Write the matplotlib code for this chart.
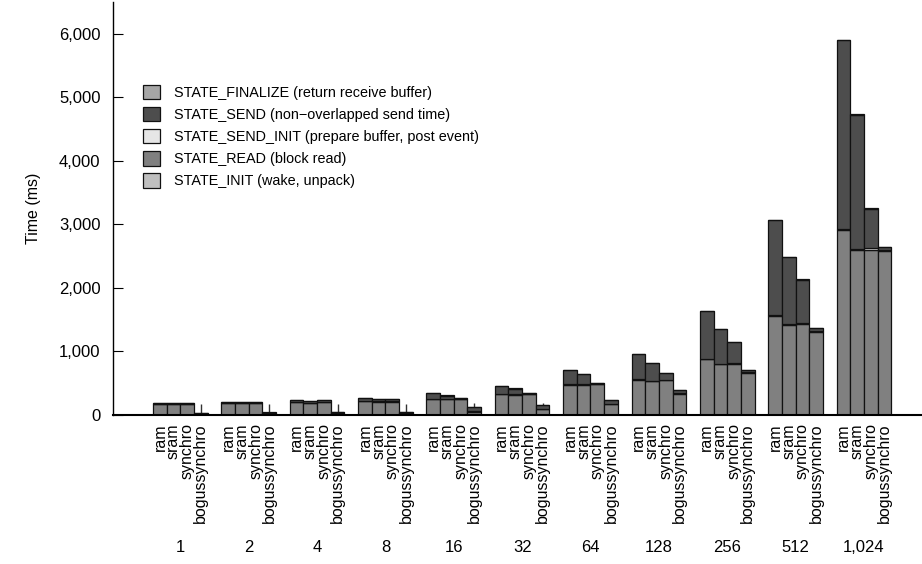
import numpy as np
import matplotlib
matplotlib.use('Agg')
import matplotlib.pyplot as plt

plt.rcParams['font.family'] = ['Liberation Sans', 'DejaVu Sans']
plt.rcParams['font.size'] = 11.5

sizes = ['1', '2', '4', '8', '16', '32', '64', '128', '256', '512', '1,024']
variants = ['ram', 'sram', 'synchro', 'bogussynchro']

# rows: ram, sram, synchro, bogussynchro ; columns: sizes
t_init = [
    [2, 2, 2, 2, 2, 2, 3, 3, 4, 5, 6],
    [2, 2, 2, 2, 2, 2, 3, 3, 4, 5, 6],
    [2, 2, 2, 2, 2, 2, 3, 3, 4, 5, 6],
    [2, 2, 2, 2, 2, 2, 3, 3, 4, 5, 6],
]
t_read = [
    [170, 185, 195, 215, 250, 325, 475, 550, 870, 1555, 2900],
    [170, 180, 190, 210, 250, 320, 475, 530, 795, 1415, 2585],
    [170, 180, 195, 210, 245, 325, 485, 540, 795, 1420, 2595],
    [10, 15, 20, 25, 50, 95, 170, 330, 660, 1300, 2570],
]
t_send_init = [
    [3, 3, 3, 3, 4, 5, 6, 8, 10, 15, 20],
    [3, 3, 3, 3, 4, 5, 6, 8, 10, 15, 20],
    [3, 3, 3, 3, 4, 5, 6, 8, 12, 20, 30],
    [3, 3, 3, 3, 4, 5, 6, 8, 10, 15, 20],
]
t_send = [
    [15, 15, 35, 45, 85, 130, 220, 400, 755, 1490, 2970],
    [10, 20, 20, 35, 50, 90, 160, 280, 545, 1055, 2115],
    [10, 20, 30, 30, 22, 18, 10, 115, 335, 685, 615],
    [18, 18, 23, 23, 63, 48, 58, 53, 38, 43, 50],
]
t_finalize = [
    [2, 2, 2, 2, 2, 2, 2, 2, 3, 3, 4],
    [2, 2, 2, 2, 2, 2, 2, 2, 3, 3, 4],
    [2, 2, 2, 2, 2, 2, 2, 2, 3, 3, 4],
    [2, 2, 2, 2, 2, 2, 2, 2, 3, 3, 4],
]
bogus_err = [145, 140, 130, 125, 65, 40, 0, 0, 0, 0, 0]

states = [
    ('STATE_INIT (wake, unpack)', t_init, '#bfbfbf'),
    ('STATE_READ (block read)', t_read, '#808080'),
    ('STATE_SEND_INIT (prepare buffer, post event)', t_send_init, '#e6e6e6'),
    ('STATE_SEND (non\u2212overlapped send time)', t_send, '#4d4d4d'),
    ('STATE_FINALIZE (return receive buffer)', t_finalize, '#a6a6a6'),
]

fig = plt.figure(figsize=(9.22, 5.64), dpi=100)
ax = fig.add_axes([113 / 922, 149 / 564, 809 / 922, 413 / 564])

pitch = 5
group_x = np.arange(len(sizes)) * pitch

handles = []
for k, (label, vals, color) in enumerate(states):
    for v in range(len(variants)):
        x = group_x + v
        bottom = np.zeros(len(sizes))
        for j in range(k):
            bottom += np.array(states[j][1][v])
        b = ax.bar(x, vals[v], width=1.0, bottom=bottom, color=color,
                   edgecolor='#111111', linewidth=0.9, zorder=2)
        if v == 0:
            handles.append((b, label))

# error bars on bogussynchro
bog_total = np.zeros(len(sizes))
for s in states:
    bog_total += np.array(s[1][3])
err = np.array(bogus_err)
mask = err > 0
ax.errorbar((group_x + 3)[mask], bog_total[mask],
            yerr=[np.zeros(mask.sum()), err[mask]], fmt='none',
            ecolor='#333333', elinewidth=1.0, capsize=0, zorder=1)

ax.set_xlim(-3.43, 55.75)
ax.set_ylim(0, 6500)
ax.set_yticks([0, 1000, 2000, 3000, 4000, 5000, 6000])
ax.set_yticklabels(['0', '1,000', '2,000', '3,000', '4,000', '5,000', '6,000'])
ax.tick_params(axis='y', direction='in', length=7, width=0.8, pad=9,
               labelsize=12)

bar_pos = np.concatenate([group_x + v for v in range(len(variants))])
bar_lab = [variants[v] for v in range(len(variants)) for _ in sizes]
ax.set_xticks(bar_pos)
ax.set_xticklabels(bar_lab, rotation=90, va='top', ha='center')
ax.tick_params(axis='x', length=0, pad=6, labelsize=11.5)

for gx, s in zip(group_x, sizes):
    ax.text(gx + 1.5, -0.32, s, transform=ax.get_xaxis_transform(),
            ha='center', va='center', fontsize=12)

ax.spines['top'].set_visible(False)
ax.spines['right'].set_visible(False)
ax.spines['bottom'].set_linewidth(1.5)
ax.spines['left'].set_linewidth(1.0)

ax.set_ylabel('Time (ms)', fontsize=11.5)
ax.yaxis.set_label_coords(-0.089, 0.5)

hs = [h[0] for h in handles][::-1]
ls = [h[1] for h in handles][::-1]
ax.legend(hs, ls, loc='upper left', bbox_to_anchor=(0.037, 0.80),
          frameon=False, borderpad=0, borderaxespad=0, fontsize=10.4,
          handlelength=1.18, handleheight=1.18, handletextpad=0.95,
          labelspacing=0.48)

fig.savefig('out.png', dpi=100)
